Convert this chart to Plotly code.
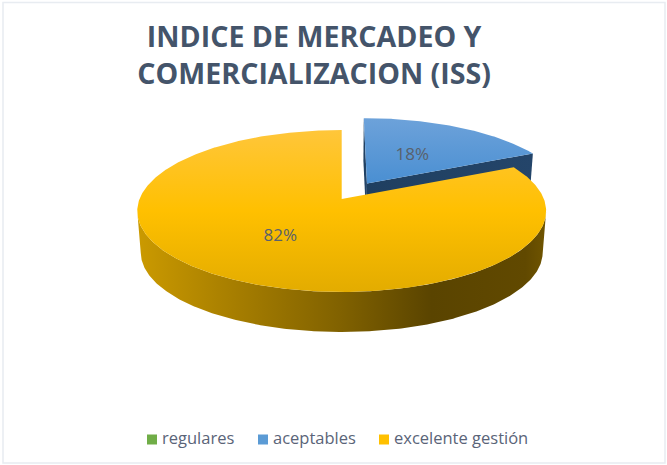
import math
import plotly.graph_objects as go

categories = ["regulares", "aceptables", "excelente gestión"]
percent_values = [0, 18, 82]
legend_colors = ["#70AD47", "#5B9BD5", "#FFC000"]
chart_title = "INDICE DE MERCADEO Y<br>COMERCIALIZACION (ISS)"

W, H = 667, 465
CX, CY = 341.7, 199.0
A, B, K = 202.2, 79.2, 0.148
DEPTH, BOTTOM_SCALE = 41.6, 0.983
EXPLODE = {1: 0.24}
LABEL_R = {1: 0.47, 2: 0.53}
LEGEND_X = [152, 263, 384]
LEGEND_Y = 439.5
TOP_GRAD = {
    1: [[0, "#4A8FD2"], [1, "#6DA2DA"]],
    2: [[0, "#E3AC00"], [0.5, "#FFC000"], [1, "#FFC63A"]],
}
SIDE_GRAD = {
    1: [[0, "#1F3F60"], [1, "#24456A"]],
    2: [[0, "#CB9A00"], [0.2, "#AC8200"], [0.5, "#806100"], [0.72, "#5A4400"], [0.95, "#614900"], [1, "#705500"]],
}


def project(u, v, bottom=False):
    w = 1 + K * v
    s = BOTTOM_SCALE if bottom else 1.0
    return CX + s * A * u / w, CY + (DEPTH if bottom else 0.0) - s * B * v / w


def sector_points(start, end, d, bottom=False):
    mid = (start + end) / 2
    ou, ov = d * math.sin(mid), d * math.cos(mid)
    n = max(2, int(abs(end - start) / 0.01))
    pts = [project(ou, ov, bottom)]
    for i in range(n + 1):
        t = start + (end - start) * i / n
        pts.append(project(ou + math.sin(t), ov + math.cos(t), bottom))
    return pts, ou, ov


fig = go.Figure()
total = sum(percent_values)
cum = 0
geo = []
for idx, val in enumerate(percent_values):
    start = cum / total * 2 * math.pi
    cum += val
    end = cum / total * 2 * math.pi
    geo.append((idx, val, start, end))


def poly(pts, gradient_type, scale):
    fig.add_trace(go.Scatter(
        x=[p[0] for p in pts] + [pts[0][0]],
        y=[p[1] for p in pts] + [pts[0][1]],
        mode="lines", line=dict(width=0, color="rgba(0,0,0,0)"),
        fill="toself",
        fillgradient=dict(type=gradient_type, colorscale=scale),
        hoverinfo="skip", showlegend=False))


labels = []
for idx, val, start, end in geo:
    if val == 0:
        continue
    d = EXPLODE.get(idx, 0.0)
    top, ou, ov = sector_points(start, end, d)
    bot, _, _ = sector_points(start, end, d, bottom=True)
    arc_t, arc_b = top[1:], bot[1:]
    if d:
        # cut faces of the exploded slice
        poly([top[0], arc_t[0], arc_b[0], bot[0]], "horizontal", SIDE_GRAD[idx])
        poly([top[0], arc_t[-1], arc_b[-1], bot[0]], "horizontal", SIDE_GRAD[idx])
    # outer wall: only the part of the rim that faces the viewer
    front = [i for i in range(len(arc_t) - 1) if arc_t[i + 1][0] < arc_t[i][0]]
    if front:
        i0, i1 = front[0], front[-1] + 1
        poly(arc_t[i0:i1 + 1] + arc_b[i0:i1 + 1][::-1], "horizontal", SIDE_GRAD[idx])
    poly(top, "vertical", TOP_GRAD[idx])
    mid = (start + end) / 2
    r = LABEL_R[idx]
    labels.append((project(ou + r * math.sin(mid), ov + r * math.cos(mid)), f"{val}%"))

fig.add_trace(go.Scatter(
    x=[p[0][0] for p in labels], y=[p[0][1] for p in labels],
    text=[p[1] for p in labels], mode="text",
    textfont=dict(family="Open Sans", size=17, color="#59616C"),
    hoverinfo="skip", showlegend=False))

for name, color, lx in zip(categories, legend_colors, LEGEND_X):
    fig.add_trace(go.Scatter(
        x=[lx], y=[LEGEND_Y], mode="markers+text", name=name,
        text=["\u2009" + name], textposition="middle right",
        textfont=dict(family="Open Sans", size=16.5, color="#5A6478"),
        marker=dict(symbol="square", size=10, color=color),
        hoverinfo="name", showlegend=False))

fig.update_layout(
    width=W, height=H,
    margin=dict(l=0, r=0, t=0, b=0),
    paper_bgcolor="white", plot_bgcolor="white",
    showlegend=False,
    xaxis=dict(range=[0, W], visible=False, fixedrange=True),
    yaxis=dict(range=[H, 0], visible=False, fixedrange=True),
    title=dict(text=chart_title, x=0.471, xanchor="center", y=0.90, yanchor="middle",
               font=dict(family="Open Sans", size=28.6, color="#44546A", weight="bold")),
    shapes=[dict(type="rect", xref="x", yref="y", x0=3, y0=2.5, x1=665, y1=463,
                 line=dict(color="#E8ECF1", width=1.5), layer="below")],
)
fig.write_html("out.html", config={"displayModeBar": False},
               post_script="document.body.style.margin='0';document.body.style.overflow='hidden';")
